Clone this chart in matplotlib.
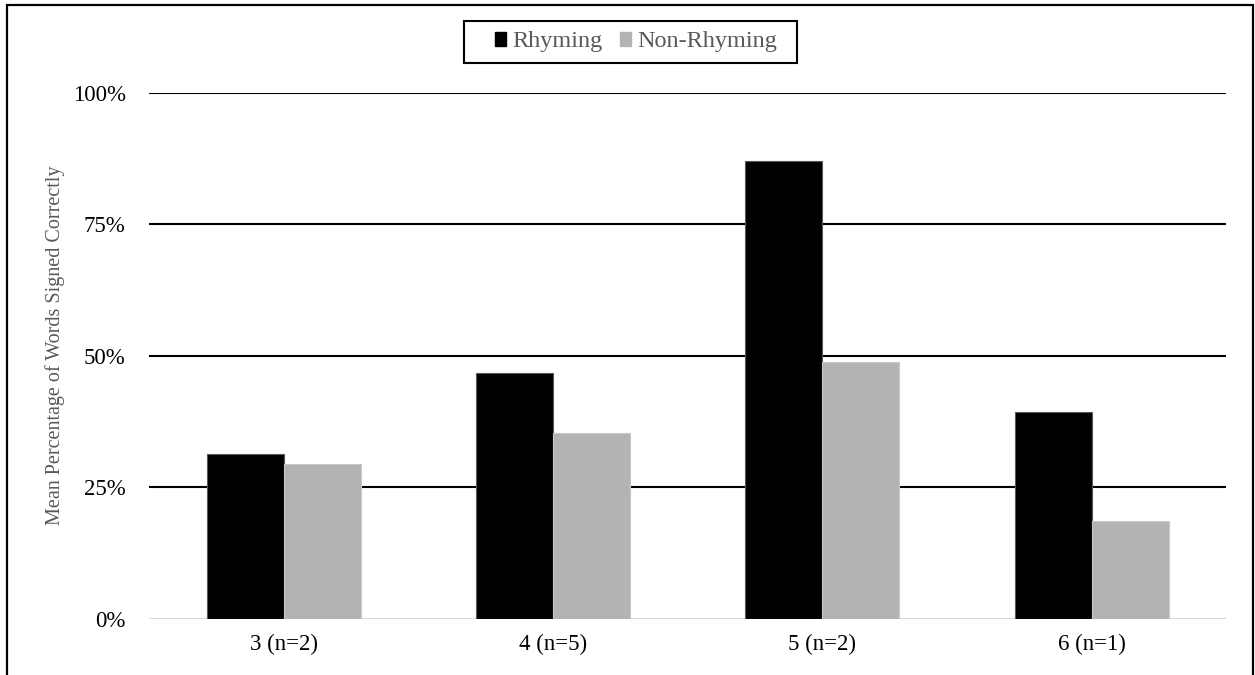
import matplotlib
matplotlib.use("Agg")
import matplotlib.pyplot as plt
import numpy as np
from matplotlib.patches import Patch, Rectangle
from matplotlib.ticker import FuncFormatter

plt.rcParams['font.family'] = ['Liberation Serif', 'DejaVu Serif']

categories = ["3 (n=2)", "4 (n=5)", "5 (n=2)", "6 (n=1)"]
rhyming = [31.3, 46.7, 87.1, 39.3]
non_rhyming = [29.3, 35.3, 48.8, 18.6]
y_ticks = [0, 25, 50, 75, 100]
series_names = ["Rhyming", "Non-Rhyming"]

W, H = 1255, 675
fig = plt.figure(figsize=(W / 100, H / 100), dpi=100)
ax = fig.add_axes([0.119, 0.0837, 0.858, 0.779])

x = np.arange(len(categories))
w = 0.286
ax.bar(x - w / 2, rhyming, width=w, color="black", edgecolor="#595959",
       linewidth=0.8, zorder=3)
ax.bar(x + w / 2, non_rhyming, width=w, color="#b3b3b3", edgecolor="#c8c8c8",
       linewidth=0.8, zorder=3)

ax.set_xlim(-0.5, len(categories) - 0.5)
ax.set_ylim(0, 100)
ax.set_yticks(y_ticks)
ax.yaxis.set_major_formatter(FuncFormatter(lambda v, p: f"{v:.0f}%"))
ax.set_xticks(x)
ax.set_xticklabels(categories)

for v in y_ticks[1:]:
    ax.axhline(v, color="black", linewidth=1.5, zorder=1)
ax.axhline(0, color="#d9d9d9", linewidth=1.5, zorder=2)

for s in ax.spines.values():
    s.set_visible(False)
ax.tick_params(axis="both", length=0, labelsize=16.5, colors="black")
ax.tick_params(axis="y", pad=17)
ax.tick_params(axis="x", pad=11)

fig.text(0.044, 1 - 345.5 / H, "Mean Percentage of Words Signed Correctly",
         rotation=90, ha="center", va="center", fontsize=14.5, color="#595959")

# legend entries, boxed by a separate frame
handles = [Patch(facecolor="black", edgecolor="black"),
           Patch(facecolor="#b3b3b3", edgecolor="#b3b3b3")]
leg = fig.legend(handles, series_names, loc="center",
                 bbox_to_anchor=(636 / W, 1 - 42 / H), ncol=2,
                 fontsize=17.5, frameon=False,
                 handlelength=0.48, handleheight=0.48, handletextpad=0.25,
                 columnspacing=0.7, borderpad=0.0)
for t in leg.get_texts():
    t.set_color("#595959")
fig.add_artist(Rectangle((464 / W, 1 - 63.3 / H), (797 - 464) / W,
                         (63.3 - 20.7) / H, transform=fig.transFigure,
                         fill=False, edgecolor="black", linewidth=1.5))

# outer border around the figure
fig.add_artist(Rectangle((6.5 / W, -0.01), (1253 - 6.5) / W,
                         1.01 - 4.5 / H, transform=fig.transFigure,
                         fill=False, edgecolor="black", linewidth=1.6))

fig.savefig("out.png", dpi=100)
